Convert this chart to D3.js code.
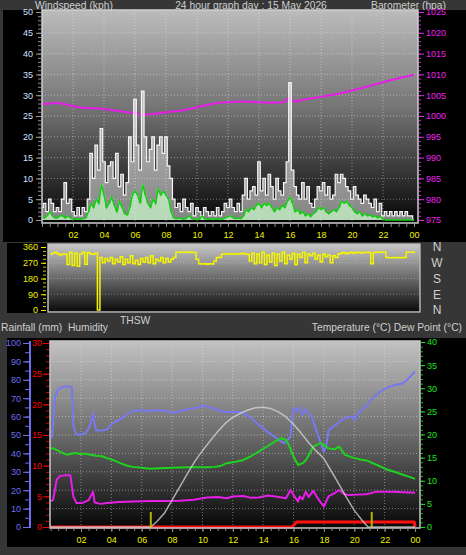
<!DOCTYPE html>
<html><head><meta charset="utf-8">
<script src="https://cdn.jsdelivr.net/npm/d3@7"></script>
<style>
body{margin:0;background:#363636;}
svg{display:block;font-family:"Liberation Sans",Arial,sans-serif;}
</style>
</head><body>
<svg id="c" width="466" height="555"></svg>
<script>
// ---------------- DATA ----------------
const hourTickValues = [2,4,6,8,10,12,14,16,18,20,22,24];
const hourLabels = ["02","04","06","08","10","12","14","16","18","20","22","00"];
const windTicks = [0,5,10,15,20,25,30,35,40,45,50];
const baroTicks = [975,980,985,990,995,1000,1005,1010,1015,1020,1025];
const dirTicks = [0,90,180,270,360];
const compassLabels = ["N","W","S","E","N"];
const compassDeg = [360,270,180,90,0];
const humTicks = [0,10,20,30,40,50,60,70,80,90,100];
const rainTicks = [0,5,10,15,20,25,30];
const tempTicks = [0,5,10,15,20,25,30,35,40];

// wind samples every 10 minutes, 00:00 .. 24:00
const sampleMinutes = 10;
const windGust = [
  3,4,2,5,4,2, 3,2,5,9,4,5, 2,1,3,1,3,2, 5,16,10,18,12,22,
  14,9,13,14,10,16, 8,11,6,9,20,14, 29,18,12,31,20,14, 17,20,12,18,20,16,
  20,13,10,5,3,4, 2,5,3,2,4,1, 3,2,1,3,2,1, 2,1,3,1,2,4,
  3,5,3,2,4,2, 6,10,5,7,8,6, 14,7,10,6,11,8, 5,10,7,6,9,14,
  33,12,8,6,5,9, 5,8,4,3,5,8, 7,9,6,8,5,6, 11,9,11,10,8,7,
  5,8,6,5,4,6, 5,4,3,5,2,4, 1,2,1,2,1,2, 1,2,1,2,1,1, 0];
const windAvg = [
  0.5,0.5,1,2,1,0.5, 0.5,1,1,0.5,1,0.5, 0.2,0.2,0.3,0.2,0.3,0.5, 2,4,3,5,4,8.5,
  6,3,4,5.5,3.5,2, 4.5,3,1.5,1.2,3,6, 7,6,4,8.5,6,4, 3,5,4,7.5,6,7,
  6,5,2,0.5,0.3,0.5, 0.3,0.2,0.5,1,0.3,0.2, 0.3,0.2,1,0.3,0.2,0.2, 0.3,0.2,0.2,0.3,0.2,0.5,
  0.8,1,0.5,0.3,0.5,0.3, 1,2.5,2,3,2.5,3.5, 4,3,4,3.5,4,3, 2,3,2.5,3.5,3,4.5,
  5.5,4,2,2.5,1.5,2, 1,1.5,0.8,1.5,2,3, 2.5,3,2,1.5,2,2.5, 2,3,4.5,4,4.5,3.5,
  3,2,1.5,2,1,1.5, 1,1.2,0.8,1,0.5,0.8, 0.2,0,0,0,0,0, 0,0,0,0,0,0, 0];
const windDir = [
  318,325,330,322,315,320, 318,260,330,255,325,250, 320,330,262,328,320,318, 325,0,300,270,295,280,
  300,265,290,275,305,260, 290,270,310,265,285,260, 295,275,300,270,310,265, 290,280,300,270,295,275,
  290,300,330,330,332,330, 330,331,330,328,290,265, 263,264,262,265,263,280, 300,300,318,320,322,318,
  320,322,318,320,325,320, 318,280,325,265,320,270, 330,260,315,275,325,255, 320,280,330,265,315,290,
  325,260,320,300,330,270, 320,310,325,290,315,275, 320,305,315,270,310,300, 320,325,328,322,326,330,
  325,328,330,326,328,330, 328,265,330,330,332,330, 330,300,298,298,300,298, 300,298,300,330,330,330, 330];

const baroHours = [0,0.5,1,1.5,2.2,3,3.7,4.5,5.3,5.9,6.5,7.2,8,9.1,10,11.3,12.3,13,14,15,15.6,15.95,16.3,17,18,19.4,20.5,21.5,22.5,23.3,24];
const baroValues = [1002.9,1003.0,1003.1,1002.8,1002.2,1001.9,1001.8,1001.4,1001.0,1000.7,1000.3,1000.5,1000.9,1001.4,1002.1,1003.1,1003.4,1003.5,1003.3,1003.2,1003.3,1004.3,1003.5,1004.0,1004.6,1005.6,1006.6,1007.6,1008.6,1009.3,1009.9];

const humHours = [0,0.1,0.3,0.5,0.75,1.0,1.4,1.5,1.65,1.8,2.1,2.3,2.5,2.7,2.8,2.9,3.0,3.4,3.7,4.1,4.6,5.0,5.4,6.0,6.5,7.0,7.7,8.1,8.5,9.0,9.5,10.0,10.5,11.0,11.5,12.0,12.5,13.1,13.7,14.4,15.1,15.4,15.8,16.0,16.2,16.4,16.6,16.8,17.0,17.2,17.5,17.8,18.0,18.15,18.3,18.7,19.3,19.9,20.0,20.3,20.8,21.2,21.6,22.1,22.6,23.2,23.6,24.0];
const humValues = [49,49,71,75,76,76.5,76,55,51,50,50.5,51,53.5,58,62,56,52.5,52.5,53,56.5,58.5,61,63,63.5,63,63.5,63,62,63,64,64.5,66,65,63.5,62.5,62.5,62.5,60,55.5,51,47,45.6,49,64.5,63,65,61,64,62,60,52.5,45.5,41,44,52.5,55,59,60,58,62.5,66,70,73,75.5,77,78,81,84.5];

const tempHours = [0,0.2,0.6,1.1,1.4,1.7,2.0,2.3,2.6,3.0,3.4,3.7,4.1,4.6,5.0,5.4,6.0,6.5,7.2,8.0,9.0,10.3,10.8,11.2,11.6,12.2,12.7,13.2,13.7,14.2,14.8,15.2,15.5,15.7,16.0,16.3,16.6,16.8,17.0,17.3,17.8,18.3,18.7,19.0,19.4,19.9,20.4,20.8,21.5,22.1,22.6,23.2,23.6,24.0];
const tempValues = [17,17,16.3,15.6,15.9,16,15.7,15.9,15.6,15.4,15.3,14.9,14.5,13.8,13.3,13,12.8,12.6,12.7,12.8,12.9,12.9,13,13.2,13.8,14.1,14.5,15.3,16.3,17.3,18.5,19.2,18.8,17.7,15.2,13.4,13.8,14.4,15.5,17.4,18.2,17,16.8,17.4,15.6,15,14.6,14.4,13.4,12.5,12,11.3,10.9,10.4];

const dewHours = [0,0.16,0.4,0.6,1.0,1.3,1.5,1.7,2.1,2.5,2.8,2.9,3.3,3.7,4.5,5.4,6.5,7.7,8.5,9.4,10.3,11.0,11.6,12.0,12.7,13.2,13.7,14.3,14.8,15.5,15.8,16.0,16.3,16.4,16.6,16.8,17.0,17.3,17.6,18.0,18.3,18.7,19.0,19.3,19.6,20.2,20.8,21.4,22.5,23.3,24.0];
const dewValues = [5.6,5.8,10.2,11,11.2,11.2,6.6,5.2,5.2,5.8,7.6,5.3,5,5.2,5.4,5.5,5.6,5.6,5.7,5.9,6.4,6.5,6.2,6.6,6.7,6.3,6.4,6.8,6.6,6.2,8,6.9,5.5,6.6,6,7.6,6.5,7.8,6.2,4.4,6.6,7.3,8,7.2,6.9,7,7.1,7.6,7.6,7.5,7.4];

const rainHours = [0,15.9,16.2,23.95,24];
const rainValues = [0,0,0.8,0.8,0];

const thswHours = [0,6.6,7,7.5,8,8.5,9,9.5,10,10.5,11,11.5,12,12.5,13,13.5,14,14.5,15,15.5,16,16.5,17,17.5,18,18.5,19,19.5,20,20.5,20.9,24];
const thswValues = [0,0,1.2,3,5.8,8.6,11.5,14.2,16.5,18.6,20.6,22.4,23.7,24.6,25.3,25.8,25.9,25.6,24.9,23.8,22.2,20.3,18.2,16.4,14.8,12,9.2,6.3,3.6,1.5,0,0];

const sunMarkHours = [6.6, 21.15];

// ---------------- DRAW ----------------
const svg = d3.select("#c");
const defs = svg.append("defs");
const FONT = '"Liberation Sans",Arial,sans-serif';

function grad(id, stops){
  const g = defs.append("linearGradient").attr("id",id)
    .attr("x1",0).attr("y1",0).attr("x2",0).attr("y2",1);
  stops.forEach(([o,c])=>g.append("stop").attr("offset",o).attr("stop-color",c));
}
grad("gTop",[[0,"#bcbcbc"],[0.45,"#767676"],[1,"#050505"]]);
grad("gDir",[[0,"#c8c8c8"],[0.5,"#6a6a6a"],[1,"#0a0a0a"]]);
grad("gBot",[[0,"#c2c2c2"],[0.5,"#6c6c6c"],[1,"#060606"]]);

function clip(id,x,y,w,h){
  defs.append("clipPath").attr("id",id).append("rect").attr("x",x).attr("y",y).attr("width",w).attr("height",h);
}

function styleAxis(g, color, size){
  g.select(".domain").remove();
  g.attr("font-family",FONT).attr("font-size",size);
  g.selectAll("line").attr("stroke",color);
  g.selectAll("text").attr("fill",color);
}
function title(txt,x,y,anchor){
  svg.append("text").attr("x",x).attr("y",y).attr("text-anchor",anchor)
    .attr("fill","#cfcfcf").attr("font-size",10.3).attr("font-family",FONT)
    .attr("xml:space","preserve").text(txt);
}
const fmt = d3.format("d");

// titles (top strip)
title("Windspeed (kph)",35,9,"start");
title("24 hour graph day : 15 May 2026",251,9,"middle");
title("Barometer (hpa)",446,9,"end");

// ===== TOP PANEL =====
svg.append("rect").attr("x",3).attr("y",10).attr("width",463).attr("height",232).attr("fill","#000");
const PT = {x0:42,x1:418,y0:10,y1:223};
const xT = d3.scaleLinear().domain([0,24]).range([42,414]);
const yW = d3.scaleLinear().domain([0,50]).range([220,12]);
const yBaro = d3.scaleLinear().domain([975,1025]).range([220,12]);
svg.append("rect").attr("x",PT.x0).attr("y",PT.y0).attr("width",PT.x1-PT.x0).attr("height",PT.y1-PT.y0).attr("fill","url(#gTop)");
clip("cTop",PT.x0,PT.y0,PT.x1-PT.x0,PT.y1-PT.y0);
const gTop = svg.append("g").attr("clip-path","url(#cTop)");
// grid
gTop.selectAll(".vg").data(hourTickValues.slice(0,-1)).join("line")
  .attr("x1",d=>xT(d)).attr("x2",d=>xT(d)).attr("y1",PT.y0).attr("y2",PT.y1)
  .attr("stroke","rgba(235,235,235,0.45)").attr("stroke-dasharray","1,2");
gTop.selectAll(".hg").data(windTicks.slice(1,-1)).join("line")
  .attr("x1",PT.x0).attr("x2",PT.x1).attr("y1",d=>yW(d)).attr("y2",d=>yW(d))
  .attr("stroke","rgba(235,235,235,0.45)").attr("stroke-dasharray","1,2");
// barometer
const baroData = baroHours.map((h,i)=>[h,baroValues[i]]);
gTop.append("path").datum(baroData)
  .attr("d",d3.line().x(d=>xT(d[0])).y(d=>yBaro(d[1])).curve(d3.curveMonotoneX))
  .attr("fill","none").attr("stroke","#e61ee6").attr("stroke-width",2);
// gust
const stepH = sampleMinutes/60;
const gustData = windGust.map((v,i)=>[i*stepH,v]);
gTop.append("path").datum(gustData)
  .attr("d",d3.area().x(d=>xT(d[0])).y0(yW(0)).y1(d=>yW(d[1])).curve(d3.curveStep))
  .attr("fill","rgba(255,255,255,0.5)");
gTop.append("path").datum(gustData)
  .attr("d",d3.line().x(d=>xT(d[0])).y(d=>yW(d[1])).curve(d3.curveStep))
  .attr("fill","none").attr("stroke","#f6f6f6").attr("stroke-width",1.2);
// average wind
const avgData = windAvg.map((v,i)=>[i*stepH,v]);
gTop.append("path").datum(avgData)
  .attr("d",d3.area().x(d=>xT(d[0])).y0(yW(0)).y1(d=>yW(d[1])).curve(d3.curveStep))
  .attr("fill","rgba(200,245,200,0.75)");
gTop.append("path").datum(avgData)
  .attr("d",d3.line().x(d=>xT(d[0])).y(d=>yW(d[1])))
  .attr("fill","none").attr("stroke","#10d010").attr("stroke-width",1.5);
svg.append("rect").attr("x",PT.x0).attr("y",PT.y0).attr("width",PT.x1-PT.x0).attr("height",PT.y1-PT.y0)
  .attr("fill","none").attr("stroke","#cfcfcf").attr("stroke-width",1.5);
// axes
const aWmin = svg.append("g").attr("transform","translate(41,0)")
  .call(d3.axisLeft(yW).tickValues(d3.range(0,51,1)).tickSize(3).tickFormat(""));
styleAxis(aWmin,"#8a8a8a",9);
const aW = svg.append("g").attr("transform","translate(41,0)")
  .call(d3.axisLeft(yW).tickValues(windTicks).tickSize(5).tickPadding(3).tickFormat(fmt));
styleAxis(aW,"#d4e2ff",9);
aW.selectAll("line").attr("stroke","#9a9a9a");
const aBmin = svg.append("g").attr("transform","translate(419,0)")
  .call(d3.axisRight(yBaro).tickValues(d3.range(975,1026,1)).tickSize(2).tickFormat(""));
styleAxis(aBmin,"#e020e0",9);
const aB = svg.append("g").attr("transform","translate(419,0)")
  .call(d3.axisRight(yBaro).tickValues(baroTicks).tickSize(5).tickPadding(2).tickFormat(fmt));
styleAxis(aB,"#ee22ee",9);
const aXTmin = svg.append("g").attr("transform","translate(0,224)")
  .call(d3.axisBottom(xT).tickValues(d3.range(0,24.01,0.5)).tickSize(3).tickFormat(""));
styleAxis(aXTmin,"#8a8a8a",9);
const aXT = svg.append("g").attr("transform","translate(0,224)")
  .call(d3.axisBottom(xT).tickValues(hourTickValues).tickSize(3).tickPadding(5).tickFormat((d,i)=>hourLabels[i]));
styleAxis(aXT,"#f0f000",9);
aXT.selectAll("line").attr("stroke","#8a8a8a");

// ===== WIND DIRECTION PANEL =====
svg.append("rect").attr("x",7).attr("y",243).attr("width",414).attr("height",70).attr("fill","#000");
const PD = {x0:48,x1:420,y0:244,y1:312};
const xD = d3.scaleLinear().domain([0,24]).range([50.6,415]);
const yD = d3.scaleLinear().domain([0,360]).range([310,247]);
svg.append("rect").attr("x",PD.x0).attr("y",PD.y0).attr("width",PD.x1-PD.x0).attr("height",PD.y1-PD.y0).attr("fill","url(#gDir)");
clip("cDir",PD.x0,PD.y0,PD.x1-PD.x0,PD.y1-PD.y0);
const gDir = svg.append("g").attr("clip-path","url(#cDir)");
gDir.selectAll("line").data([90,180,270]).join("line")
  .attr("x1",PD.x0).attr("x2",PD.x1).attr("y1",d=>yD(d)).attr("y2",d=>yD(d))
  .attr("stroke","rgba(235,235,235,0.35)").attr("stroke-dasharray","1,2");
const dirData = windDir.map((v,i)=>[i*stepH,v]);
gDir.append("path").datum(dirData)
  .attr("d",d3.line().x(d=>xD(d[0])).y(d=>yD(d[1])).curve(d3.curveStep))
  .attr("fill","none").attr("stroke","#f5f500").attr("stroke-width",1.5);
svg.append("rect").attr("x",PD.x0).attr("y",PD.y0).attr("width",PD.x1-PD.x0).attr("height",PD.y1-PD.y0)
  .attr("fill","none").attr("stroke","#bdbdbd").attr("stroke-width",1.5);
const aDmin = svg.append("g").attr("transform","translate(46,0)")
  .call(d3.axisLeft(yD).tickValues(d3.range(0,361,22.5)).tickSize(3).tickFormat(""));
styleAxis(aDmin,"#c8c800",9);
const aD = svg.append("g").attr("transform","translate(46,0)")
  .call(d3.axisLeft(yD).tickValues(dirTicks).tickSize(5).tickPadding(3).tickFormat(fmt));
styleAxis(aD,"#f0f000",9);
svg.append("g").selectAll("text").data(compassLabels).join("text")
  .attr("x",437).attr("y",(d,i)=>yD(compassDeg[i])).attr("dy","0.36em")
  .attr("text-anchor","middle").attr("fill","#cfcfcf").attr("font-size",12).attr("font-family",FONT)
  .text(d=>d);

// labels between panels
title("THSW",120,324,"start");
title("Rainfall (mm)  Humidity",1,331,"start");
title("Temperature (°C) Dew Point (°C)",462,331,"end");

// ===== BOTTOM PANEL =====
svg.append("rect").attr("x",7).attr("y",338).attr("width",459).attr("height",209).attr("fill","#000");
const PB = {x0:50,x1:420,y0:341,y1:528};
const xB = d3.scaleLinear().domain([0,24]).range([50.6,415]);
const yH = d3.scaleLinear().domain([0,100]).range([527,343]);
const yR = d3.scaleLinear().domain([0,30]).range([527,343]);
const yT = d3.scaleLinear().domain([0,40]).range([527,342]);
svg.append("rect").attr("x",PB.x0).attr("y",PB.y0).attr("width",PB.x1-PB.x0).attr("height",PB.y1-PB.y0).attr("fill","url(#gBot)");
clip("cBot",PB.x0,PB.y0,PB.x1-PB.x0,PB.y1-PB.y0+2);
const gBot = svg.append("g").attr("clip-path","url(#cBot)");
gBot.selectAll(".vg").data(hourTickValues.slice(0,-1)).join("line")
  .attr("x1",d=>xB(d)).attr("x2",d=>xB(d)).attr("y1",PB.y0).attr("y2",PB.y1)
  .attr("stroke","rgba(235,235,235,0.45)").attr("stroke-dasharray","1,2");
gBot.selectAll(".hg").data(humTicks.slice(1,-1)).join("line")
  .attr("x1",PB.x0).attr("x2",PB.x1).attr("y1",d=>yH(d)).attr("y2",d=>yH(d))
  .attr("stroke","rgba(235,235,235,0.45)").attr("stroke-dasharray","1,2");
function seriesLine(hours, vals, ys, color, w){
  gBot.append("path").datum(hours.map((h,i)=>[h,vals[i]]))
    .attr("d",d3.line().x(d=>xB(d[0])).y(d=>ys(d[1])))
    .attr("fill","none").attr("stroke",color).attr("stroke-width",w).attr("stroke-linejoin","round");
}
seriesLine(humHours,humValues,yH,"#7878f0",2);
seriesLine(tempHours,tempValues,yT,"#1ed21e",2);
seriesLine(dewHours,dewValues,yT,"#e61ee6",2);
seriesLine(rainHours,rainValues,yR,"#ff1010",3);
seriesLine(thswHours,thswValues,yT,"rgba(215,215,215,0.75)",1.5);
gBot.selectAll(".sun").data(sunMarkHours).join("line")
  .attr("x1",d=>xB(d)).attr("x2",d=>xB(d)).attr("y1",512).attr("y2",528)
  .attr("stroke","#b4b400").attr("stroke-width",2);
svg.append("rect").attr("x",PB.x0).attr("y",PB.y0).attr("width",PB.x1-PB.x0).attr("height",PB.y1-PB.y0)
  .attr("fill","none").attr("stroke","#c8c8c8").attr("stroke-width",1.5);
// left axes
svg.append("line").attr("x1",30).attr("x2",30).attr("y1",341).attr("y2",528).attr("stroke","#6f6ff0").attr("stroke-width",2);
const aHmin = svg.append("g").attr("transform","translate(29,0)")
  .call(d3.axisLeft(yH).tickValues(d3.range(0,101,5)).tickSize(4).tickFormat(""));
styleAxis(aHmin,"#6f6ff0",9);
const aH = svg.append("g").attr("transform","translate(29,0)")
  .call(d3.axisLeft(yH).tickValues(humTicks).tickSize(6).tickPadding(2).tickFormat(fmt));
styleAxis(aH,"#6f6ff0",9);
const aRmin = svg.append("g").attr("transform","translate(49,0)")
  .call(d3.axisLeft(yR).tickValues(d3.range(0,31,1)).tickSize(3).tickFormat(""));
styleAxis(aRmin,"#e00000",9);
const aR = svg.append("g").attr("transform","translate(49,0)")
  .call(d3.axisLeft(yR).tickValues(rainTicks).tickSize(6).tickPadding(1).tickFormat(fmt));
styleAxis(aR,"#ff0000",9);
// right axis
const aTmin = svg.append("g").attr("transform","translate(421,0)")
  .call(d3.axisRight(yT).tickValues(d3.range(0,41,1)).tickSize(2).tickFormat(""));
styleAxis(aTmin,"#10c010",9);
const aT = svg.append("g").attr("transform","translate(421,0)")
  .call(d3.axisRight(yT).tickValues(tempTicks).tickSize(4).tickPadding(2).tickFormat(fmt));
styleAxis(aT,"#20e020",9);
// bottom x axis
const aXBmin = svg.append("g").attr("transform","translate(0,529)")
  .call(d3.axisBottom(xB).tickValues(d3.range(0,24.01,0.5)).tickSize(2).tickFormat(""));
styleAxis(aXBmin,"#8a8a8a",9);
const aXB = svg.append("g").attr("transform","translate(0,529)")
  .call(d3.axisBottom(xB).tickValues(hourTickValues).tickSize(3).tickPadding(5).tickFormat((d,i)=>hourLabels[i]));
styleAxis(aXB,"#f0f000",9);
aXB.selectAll("line").attr("stroke","#8a8a8a");
</script>
</body></html>
